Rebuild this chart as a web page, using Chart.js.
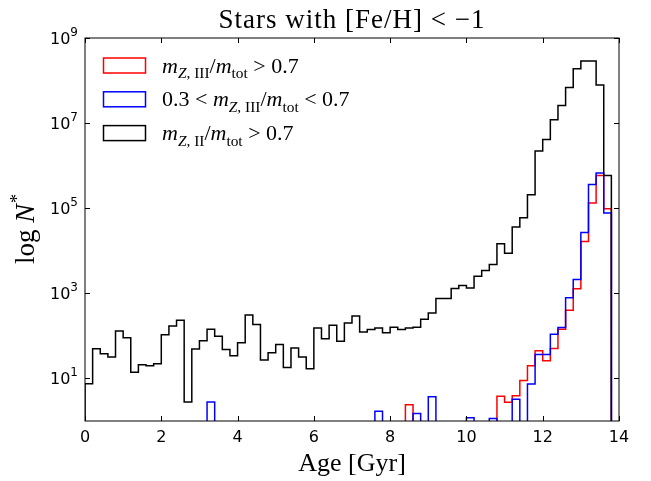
<!DOCTYPE html>
<html>
<head>
<meta charset="utf-8">
<script src="https://cdn.jsdelivr.net/npm/chart.js@4.4.1/dist/chart.umd.min.js"></script>
<style>
  html, body { margin: 0; padding: 0; background: #fff; }
  canvas { display: block; }
</style>
</head>
<body>
<canvas id="c" width="651" height="481"></canvas>
<script>
// histogram bins: 0.2 Gyr wide, 0 .. 14 Gyr
const binWidth = 0.2;
const binCount = 70;

// stars with m_Z,II / m_tot > 0.7 (black)
const countsII = [
  7.5, 50, 38, 32, 130, 91, 14, 21, 20, 22,
  107, 171, 233, 2.8, 49, 77, 143, 98, 48, 34,
  69, 310, 185, 27, 40, 63, 18, 52, 32, 17,
  154, 86, 178, 75, 201, 295, 124, 141, 154, 119,
  160, 141, 154, 160, 245, 347, 760, 760, 1300, 1520,
  1340, 2530, 3460, 4780, 14700, 8700, 36000, 60000, 208000, 2.2e6,
  4.1e6, 1.2e7, 2.6e7, 6.9e7, 1.9e8, 2.9e8, 2.9e8, 7.9e7, 5.9e5, 0
];
// m_Z,III / m_tot > 0.7 (red)
const countsIIIHigh = [
  0, 0, 0, 0, 0, 0, 0, 0, 0, 0,
  0, 0, 0, 0, 0, 0, 0, 0, 0, 0,
  0, 0, 0, 0, 0, 0, 0, 0, 0, 0,
  0, 0, 0, 0, 0, 0, 0, 0, 0, 0,
  0, 0, 2.4, 0, 0, 0, 0, 0, 0, 0,
  0, 0, 0, 0, 3.8, 2.75, 3.9, 8.9, 19.8, 44.6,
  26, 50.5, 144, 398, 1290, 16500, 132000, 590000, 97000, 0
];
// 0.3 < m_Z,III / m_tot < 0.7 (blue)
const countsIIIMid = [
  0, 0, 0, 0, 0, 0, 0, 0, 0, 0,
  0, 0, 0, 0, 0, 0, 2.8, 0, 0, 0,
  0, 0, 0, 0, 0, 0, 0, 0, 0, 0,
  0, 0, 0, 0, 0, 0, 0, 0, 1.7, 0,
  0, 0, 0, 1.5, 0, 3.7, 0, 0, 0, 0,
  1.2, 0, 0, 1.15, 0, 0, 3.24, 0, 7.4, 36.6,
  36.6, 110, 158, 790, 2100, 27000, 360000, 670000, 77000, 0
];

const xTicks = [0, 2, 4, 6, 8, 10, 12, 14];
const yTickValues = [1e1, 1e3, 1e5, 1e7, 1e9];
const yTickExponents = ['1', '3', '5', '7', '9'];

const titleText = 'Stars with [Fe/H] < \u22121';
const xTitle = 'Age [Gyr]';
// [text, style]  i = italic, s = subscript
const legendLabels = [
  [['m', 'i'], ['Z', 'is'], [', III', 's'], ['/', ''], ['m', 'i'], ['tot', 's'], [' > 0.7', '']],
  [['0.3 < ', ''], ['m', 'i'], ['Z', 'is'], [', III', 's'], ['/', ''], ['m', 'i'], ['tot', 's'], [' < 0.7', '']],
  [['m', 'i'], ['Z', 'is'], [', II', 's'], ['/', ''], ['m', 'i'], ['tot', 's'], [' > 0.7', '']]
];
const seriesColors = ['#ff0000', '#0000ff', '#000000'];

const SERIF = '"Liberation Serif", "DejaVu Serif", serif';
const SANS = '"DejaVu Sans", sans-serif';

// step outline points: left bin edges, closed at the right end
function stepPoints(counts) {
  const pts = [{ x: 0, y: 1e-3 }];
  counts.forEach((v, i) => pts.push({ x: +(i * binWidth).toFixed(1), y: v > 0 ? v : 1e-3 }));
  pts.push({ x: +(binCount * binWidth).toFixed(1), y: 1e-3 });
  return pts;
}

function drawRich(ctx, parts, x, y, size) {
  for (const [t, st] of parts) {
    const sub = st.includes('s');
    const fs = sub ? size * 0.7 : size;
    ctx.font = (st.includes('i') ? 'italic ' : '') + fs + 'px ' + SERIF;
    ctx.fillText(t, x, y + (sub ? size * 0.25 : 0));
    x += ctx.measureText(t).width;
  }
  return x;
}

const decor = {
  id: 'decor',
  afterDatasetsDraw(chart) {
    const { ctx, chartArea: a, scales: { x, y } } = chart;
    ctx.save();
    ctx.strokeStyle = '#000';
    ctx.lineWidth = 1;
    ctx.strokeRect(a.left, a.top, a.right - a.left, a.bottom - a.top);
    ctx.beginPath();
    const tl = 5;
    xTicks.forEach(v => {
      const px = Math.round(x.getPixelForValue(v)) + 0.5;
      ctx.moveTo(px, a.bottom); ctx.lineTo(px, a.bottom - tl);
      ctx.moveTo(px, a.top); ctx.lineTo(px, a.top + tl);
    });
    yTickValues.forEach(v => {
      const py = Math.round(y.getPixelForValue(v)) + 0.5;
      ctx.moveTo(a.left, py); ctx.lineTo(a.left + tl, py);
      ctx.moveTo(a.right, py); ctx.lineTo(a.right - tl, py);
    });
    ctx.stroke();

    // y tick labels: 10 with superscript exponent
    ctx.fillStyle = '#000';
    ctx.textBaseline = 'alphabetic';
    ctx.textAlign = 'left';
    yTickValues.forEach((v, i) => {
      const py = y.getPixelForValue(v);
      ctx.font = '12px ' + SANS;
      const we = ctx.measureText(yTickExponents[i]).width;
      ctx.font = '16px ' + SANS;
      const wb = ctx.measureText('10').width;
      const x0 = a.left - 7 - we - wb;
      ctx.fillText('10', x0, py + 6);
      ctx.font = '12px ' + SANS;
      ctx.fillText(yTickExponents[i], x0 + wb, py - 2);
    });

    // legend
    legendLabels.forEach((parts, i) => {
      const cy = 65.5 + i * 33.8;
      ctx.strokeStyle = seriesColors[i];
      ctx.lineWidth = 1.5;
      ctx.strokeRect(103.5, cy - 7.5, 42, 15);
      drawRich(ctx, parts, 162, cy + 7, 22);
    });

    // titles
    ctx.textAlign = 'center';
    ctx.font = '27px ' + SERIF;
    ctx.letterSpacing = '1px';
    ctx.fillText(titleText, (a.left + a.right) / 2, 28);
    ctx.letterSpacing = '0px';
    ctx.font = '26px ' + SERIF;
    ctx.fillText(xTitle, (a.left + a.right) / 2, 471);

    ctx.translate(34, (a.top + a.bottom) / 2);
    ctx.rotate(-Math.PI / 2);
    ctx.textAlign = 'left';
    ctx.font = '27px ' + SERIF;
    const w1 = ctx.measureText('log ').width;
    ctx.font = 'italic 28px ' + SERIF;
    const w2 = ctx.measureText('N').width;
    ctx.font = '18px ' + SERIF;
    const w3 = ctx.measureText('*').width;
    let sx = -(w1 + w2 + w3) / 2;
    ctx.font = '27px ' + SERIF;
    ctx.fillText('log ', sx, 0); sx += w1;
    ctx.font = 'italic 28px ' + SERIF;
    ctx.fillText('N', sx, 0); sx += w2 + 1;
    ctx.font = '18px ' + SERIF;
    ctx.fillText('*', sx, -11);
    ctx.restore();
  }
};

const lineStyle = (data, color, order) => ({
  data, borderColor: color, borderWidth: 1.5, stepped: 'before',
  pointRadius: 0, fill: false, order, tension: 0
});

new Chart(document.getElementById('c'), {
  type: 'line',
  data: {
    datasets: [
      lineStyle(stepPoints(countsIIIHigh), seriesColors[0], 2),
      lineStyle(stepPoints(countsIIIMid), seriesColors[1], 1),
      lineStyle(stepPoints(countsII), seriesColors[2], 0)
    ]
  },
  options: {
    responsive: false,
    animation: false,
    layout: { padding: { top: 38, right: 32, left: 0, bottom: 0 } },
    plugins: { legend: { display: false }, tooltip: { enabled: false } },
    scales: {
      x: {
        type: 'linear', min: 0, max: 14,
        afterFit: s => { s.height = 60; },
        afterBuildTicks: s => { s.ticks = xTicks.map(v => ({ value: v })); },
        grid: { display: false, drawTicks: false },
        border: { display: false },
        ticks: { padding: 7, color: '#000', font: { family: 'DejaVu Sans', size: 16 }, maxRotation: 0 }
      },
      y: {
        type: 'logarithmic', min: 1, max: 1e9,
        afterFit: s => { s.width = 85; },
        afterBuildTicks: s => { s.ticks = yTickValues.map(v => ({ value: v })); },
        grid: { display: false, drawTicks: false },
        border: { display: false },
        ticks: { display: false }
      }
    }
  },
  plugins: [decor]
});
</script>
</body>
</html>
